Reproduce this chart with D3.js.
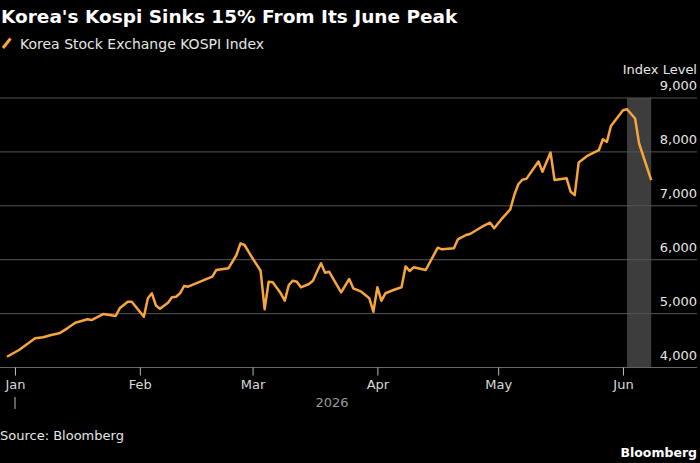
<!DOCTYPE html>
<html>
<head>
<meta charset="utf-8">
<script src="https://cdn.jsdelivr.net/npm/d3@7"></script>
<style>
  body { margin: 0; background: #000; }
  svg { display: block; }
</style>
</head>
<body>
<div id="chart-area"></div>
<script>
// data
const dates = [
	'2025-12-30', '2026-01-02', '2026-01-06', '2026-01-08', '2026-01-10', '2026-01-12',
	'2026-01-14', '2026-01-16', '2026-01-19', '2026-01-20', '2026-01-23', '2026-01-26',
	'2026-01-27', '2026-01-29', '2026-01-30', '2026-02-02', '2026-02-03', '2026-02-04',
	'2026-02-05', '2026-02-06', '2026-02-08', '2026-02-09', '2026-02-10', '2026-02-11',
	'2026-02-12', '2026-02-13', '2026-02-19', '2026-02-20', '2026-02-23', '2026-02-25',
	'2026-02-26', '2026-02-27', '2026-03-01', '2026-03-03', '2026-03-04', '2026-03-05',
	'2026-03-06', '2026-03-08', '2026-03-09', '2026-03-10', '2026-03-11', '2026-03-12',
	'2026-03-13', '2026-03-15', '2026-03-16', '2026-03-17', '2026-03-18', '2026-03-19',
	'2026-03-20', '2026-03-23', '2026-03-25', '2026-03-26', '2026-03-28', '2026-03-30',
	'2026-03-31', '2026-04-01', '2026-04-02', '2026-04-03', '2026-04-05', '2026-04-07',
	'2026-04-08', '2026-04-09', '2026-04-10', '2026-04-13', '2026-04-16', '2026-04-17',
	'2026-04-20', '2026-04-21', '2026-04-23', '2026-04-24', '2026-04-27', '2026-04-29',
	'2026-04-30', '2026-05-02', '2026-05-04', '2026-05-05', '2026-05-06', '2026-05-07',
	'2026-05-08', '2026-05-11', '2026-05-12', '2026-05-14', '2026-05-15', '2026-05-18',
	'2026-05-19', '2026-05-20', '2026-05-21', '2026-05-23', '2026-05-26', '2026-05-27',
	'2026-05-28', '2026-05-29', '2026-06-01', '2026-06-02', '2026-06-04', '2026-06-05',
	'2026-06-08'
]
const kospi = [
	4200, 4325, 4542, 4560, 4603, 4634,
	4727, 4831, 4894, 4881, 4993, 4955,
	5098, 5221, 5221, 4943, 5284, 5377,
	5150, 5090, 5202, 5302, 5314, 5377,
	5512, 5500, 5685, 5809, 5840, 6087,
	6304, 6273, 6026, 5796, 5080, 5592,
	5580, 5377, 5239, 5531, 5611, 5592,
	5488, 5549, 5611, 5777, 5933, 5759,
	5777, 5395, 5642, 5469, 5406, 5284,
	5035, 5488, 5239, 5377, 5438, 5488,
	5875, 5790, 5859, 5809, 6223, 6193,
	6211, 6378, 6458, 6477, 6612, 6687,
	6583, 6768, 6935, 7200, 7400, 7483,
	7500, 7822, 7633, 7990, 7478, 7510,
	7260, 7198, 7805, 7920, 8031, 8235,
	8185, 8481, 8772, 8791, 8619, 8156,
	7476
]
const yTicks = [4000, 5000, 6000, 7000, 8000, 9000]
const monthTicks = ['2026-01-01', '2026-02-01', '2026-03-01', '2026-04-01', '2026-05-01', '2026-06-01']
const shadeDates = ['2026-06-02', '2026-06-08']

const WIDTH = 700
const HEIGHT = 463
const ORANGE = '#f7a53c'
const FONT = 'DejaVu Sans'
const parse = d3.timeParse('%Y-%m-%d')

const svg = d3.select('#chart-area').append('svg')
	.attr('width', WIDTH)
	.attr('height', HEIGHT)
	.style('background', '#000')

const x = d3.scaleTime()
	.domain([parse('2026-01-01'), parse('2026-06-01')])
	.range([15, 623])

const y = d3.scaleLinear()
	.domain([4000, 9000])
	.range([367.5, 98])

const PLOT_LEFT = 0
const PLOT_RIGHT = 697

// title
svg.append('text')
	.attr('x', 1)
	.attr('y', 23)
	.attr('fill', '#fff')
	.attr('font-family', FONT)
	.attr('font-weight', 'bold')
	.attr('font-size', '18.5px')
	.text("Korea's Kospi Sinks 15% From Its June Peak")

// legend
svg.append('line')
	.attr('x1', 3).attr('y1', 48)
	.attr('x2', 10.5).attr('y2', 38.5)
	.attr('stroke', ORANGE)
	.attr('stroke-width', 3)
svg.append('text')
	.attr('x', 20)
	.attr('y', 48.5)
	.attr('fill', '#e6e6e6')
	.attr('font-family', FONT)
	.attr('font-size', '14px')
	.text('Korea Stock Exchange KOSPI Index')

// shaded period
svg.append('rect')
	.attr('x', x(parse(shadeDates[0])))
	.attr('y', y(9000))
	.attr('width', x(parse(shadeDates[1])) - x(parse(shadeDates[0])))
	.attr('height', y(4000) - y(9000))
	.attr('fill', '#3d3d3d')

// grid + y labels
const yAxis = svg.append('g').attr('class', 'y axis')
yAxis.selectAll('line')
	.data(yTicks)
	.enter().append('line')
		.attr('x1', PLOT_LEFT)
		.attr('x2', PLOT_RIGHT)
		.attr('y1', d => y(d))
		.attr('y2', d => y(d))
		.attr('stroke', d => d === 4000 ? '#666' : '#555')
		.attr('stroke-width', 1)
yAxis.selectAll('text')
	.data(yTicks)
	.enter().append('text')
		.attr('x', PLOT_RIGHT)
		.attr('y', d => y(d) - 8)
		.attr('text-anchor', 'end')
		.attr('fill', '#e6e6e6')
		.attr('font-family', FONT)
		.attr('font-size', '13px')
		.text(d => d3.format(',')(d))
svg.append('text')
	.attr('x', PLOT_RIGHT)
	.attr('y', 74)
	.attr('text-anchor', 'end')
	.attr('fill', '#e6e6e6')
	.attr('font-family', FONT)
	.attr('font-size', '13px')
	.text('Index Level')

// x axis
const xAxisCall = d3.axisBottom(x)
	.tickValues(monthTicks.map(parse))
	.tickFormat(d3.timeFormat('%b'))
	.tickSize(8)
	.tickPadding(4)
const xAxisGroup = svg.append('g')
	.attr('class', 'x axis')
	.attr('transform', `translate(0, ${y(4000)})`)
	.call(xAxisCall)
xAxisGroup.select('.domain').remove()
xAxisGroup.selectAll('line').attr('stroke', '#bbb')
xAxisGroup.selectAll('text')
	.attr('fill', '#d9d9d9')
	.attr('font-family', FONT)
	.attr('font-size', '13px')

// year marker
svg.append('line')
	.attr('x1', x(parse('2026-01-01'))).attr('x2', x(parse('2026-01-01')))
	.attr('y1', 397).attr('y2', 409)
	.attr('stroke', '#bbb')
svg.append('text')
	.attr('x', 332)
	.attr('y', 407)
	.attr('text-anchor', 'middle')
	.attr('fill', '#9a9a9a')
	.attr('font-family', FONT)
	.attr('font-size', '13px')
	.text('2026')

// line
const line = d3.line()
	.x((d, i) => x(parse(dates[i])))
	.y(d => y(d))
svg.append('path')
	.datum(kospi)
	.attr('d', line)
	.attr('fill', 'none')
	.attr('stroke', ORANGE)
	.attr('stroke-width', 2.5)
	.attr('stroke-linejoin', 'round')

// footer
svg.append('text')
	.attr('x', 0)
	.attr('y', 440)
	.attr('fill', '#e6e6e6')
	.attr('font-family', FONT)
	.attr('font-size', '13px')
	.text('Source: Bloomberg')
svg.append('text')
	.attr('x', 697)
	.attr('y', 457)
	.attr('text-anchor', 'end')
	.attr('fill', '#fff')
	.attr('font-family', FONT)
	.attr('font-weight', 'bold')
	.attr('font-size', '12.5px')
	.text('Bloomberg')
</script>
</body>
</html>
